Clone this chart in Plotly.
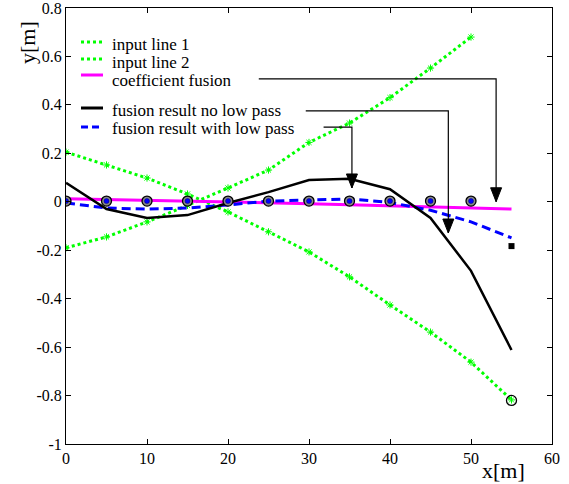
import plotly.graph_objects as go

# ---------------- data ----------------
x_in1 = [0, 5, 10, 15, 20, 25, 30, 35, 40, 45, 50]
y_in1 = [-0.19, -0.145, -0.083, -0.015, 0.057, 0.131, 0.245, 0.325, 0.43, 0.552, 0.68]

x_in2 = [0, 5, 10, 15, 20, 25, 30, 35, 40, 45, 50, 55]
y_in2 = [0.205, 0.152, 0.098, 0.032, -0.042, -0.124, -0.207, -0.31, -0.426, -0.538, -0.662, -0.818]

x_fus = [0, 5, 10, 15, 20, 25, 30, 35, 40, 45, 50, 55]
y_coef = [0.013, 0.01, 0.007, 0.004, 0.0, -0.004, -0.008, -0.012, -0.016, -0.02, -0.025, -0.03]
y_nolp = [0.078, -0.03, -0.067, -0.055, -0.005, 0.04, 0.09, 0.095, 0.052, -0.067, -0.285, -0.612]
y_lp = [-0.005, -0.026, -0.03, -0.026, -0.013, 0.003, 0.007, 0.012, -0.003, -0.035, -0.083, -0.149]

x_circ = [0, 5, 10, 15, 20, 25, 30, 35, 40, 45, 50]
y_circ = [0.003, 0.003, 0.003, 0.003, 0.003, 0.003, 0.003, 0.003, 0.003, 0.003, 0.003]
x_end_circ = [55]
y_end_circ = [-0.82]
x_sq = [55]
y_sq = [-0.183]

xtick_vals = [0, 10, 20, 30, 40, 50, 60]
xtick_text = ["0", "10", "20", "30", "40", "50", "60"]
ytick_vals = [0.8, 0.6, 0.4, 0.2, 0, -0.2, -0.4, -0.6, -0.8, -1]
ytick_text = ["0.8", "0.6", "0.4", "0.2", "0", "-0.2", "-0.4", "-0.6", "-0.8", "-1"]

legend_names = ["input line 1", "input line 2", "coefficient fusion",
                "fusion result no low pass", "fusion result with low pass"]

# arrows: (x_start, y_horizontal, x_vertical, y_tip)
arrows = [
    (23.8, 0.507, 53.1, 0.0),
    (29.6, 0.375, 47.2, -0.129),
    (31.8, 0.308, 35.3, 0.057),
]

GREEN = "#00ff00"
FONT = "'Liberation Serif', 'Times New Roman', Times, serif"

fig = go.Figure()

fig.add_trace(go.Scatter(x=x_in1, y=y_in1, mode="lines+markers",
                         line=dict(color=GREEN, width=3, dash="3px,3px"),
                         marker=dict(symbol="asterisk-open", size=6, color=GREEN,
                                     line=dict(color=GREEN, width=1)),
                         showlegend=False))
fig.add_trace(go.Scatter(x=x_in2, y=y_in2, mode="lines+markers",
                         line=dict(color=GREEN, width=3, dash="3px,3px"),
                         marker=dict(symbol="asterisk-open", size=6, color=GREEN,
                                     line=dict(color=GREEN, width=1)),
                         showlegend=False))
fig.add_trace(go.Scatter(x=x_fus, y=y_coef, mode="lines",
                         line=dict(color="#ff00ff", width=3), showlegend=False))
fig.add_trace(go.Scatter(x=x_fus, y=y_lp, mode="lines",
                         line=dict(color="#0000ff", width=3, dash="9px,5px"),
                         showlegend=False))
fig.add_trace(go.Scatter(x=x_fus, y=y_nolp, mode="lines",
                         line=dict(color="black", width=2.5), showlegend=False))
# circles
fig.add_trace(go.Scatter(x=x_circ, y=y_circ, mode="markers",
                         marker=dict(symbol="circle", size=10, color="#888888",
                                     line=dict(color="black", width=1.3)),
                         showlegend=False))
fig.add_trace(go.Scatter(x=x_circ, y=y_circ, mode="markers",
                         marker=dict(symbol="circle", size=5, color="#0000ff",
                                     line=dict(color="#000066", width=0.5)),
                         showlegend=False))
fig.add_trace(go.Scatter(x=x_end_circ, y=y_end_circ, mode="markers",
                         marker=dict(symbol="circle-open", size=10, color="black",
                                     line=dict(color="black", width=1.3)),
                         showlegend=False))
fig.add_trace(go.Scatter(x=x_sq, y=y_sq, mode="markers",
                         marker=dict(symbol="square", size=6, color="black"),
                         showlegend=False))

shapes = []
annotations = []

# arrows
for xs, yh, xv, yt in arrows:
    shapes.append(dict(type="path", xref="x", yref="y",
                       path=f"M {xs} {yh} L {xv} {yh} L {xv} {yt}",
                       line=dict(color="black", width=1.2)))
    shapes.append(dict(type="path", xref="x", yref="y",
                       xsizemode="pixel", ysizemode="pixel",
                       xanchor=xv, yanchor=yt,
                       path="M -5.5 14 L 5.5 14 L 0 0 Z",
                       fillcolor="black", line=dict(color="black", width=1)))

# manual legend (pixel positions -> paper)
L, R, T, B = 66, 552, 8, 444
def px(xp):
    return (xp - L) / (R - L)
def py(yp):
    return (B - yp) / (B - T)

leg_styles = [
    dict(color=GREEN, width=3, dash="3px,3px"),
    dict(color=GREEN, width=3, dash="3px,3px"),
    dict(color="#ff00ff", width=3),
    dict(color="black", width=3),
    dict(color="#0000ff", width=3, dash="7px,4px"),
]
sample_y = [42, 59, 75, 108, 127]
text_y = [45, 63, 80, 111, 128]
for name, st, sy, ty in zip(legend_names, leg_styles, sample_y, text_y):
    shapes.append(dict(type="line", xref="paper", yref="paper",
                       x0=px(81), x1=px(103), y0=py(sy), y1=py(sy), line=st))
    annotations.append(dict(xref="paper", yref="paper", x=px(111), y=py(ty),
                            xanchor="left", yanchor="middle", text=name,
                            showarrow=False, borderpad=0,
                            font=dict(family=FONT, size=17, color="black")))

# axis titles
annotations.append(dict(xref="paper", yref="paper", x=px(503), y=py(470),
                        xanchor="center", yanchor="middle", text="x[m]",
                        showarrow=False, font=dict(family=FONT, size=22, color="black")))
annotations.append(dict(xref="paper", yref="paper", x=px(27), y=py(43),
                        xanchor="center", yanchor="middle", text="y[m]", textangle=-90,
                        showarrow=False, font=dict(family=FONT, size=22, color="black")))

axis_common = dict(showline=True, linecolor="black", linewidth=1, mirror="ticks",
                   ticks="inside", ticklen=5, tickcolor="black", tickwidth=1,
                   showgrid=False, zeroline=False, automargin=False,
                   ticklabeloverflow="allow",
                   tickfont=dict(family=FONT, size=16, color="black"))

fig.update_layout(
    width=569, height=484,
    margin=dict(l=L, r=569 - R, t=T, b=484 - B, autoexpand=False),
    paper_bgcolor="white", plot_bgcolor="white",
    xaxis=dict(range=[0, 60], tickvals=xtick_vals, ticktext=xtick_text, **axis_common),
    yaxis=dict(range=[-1, 0.8], tickvals=ytick_vals, ticktext=ytick_text, **axis_common),
    shapes=shapes, annotations=annotations, showlegend=False,
)

fig.write_html("out.html")
